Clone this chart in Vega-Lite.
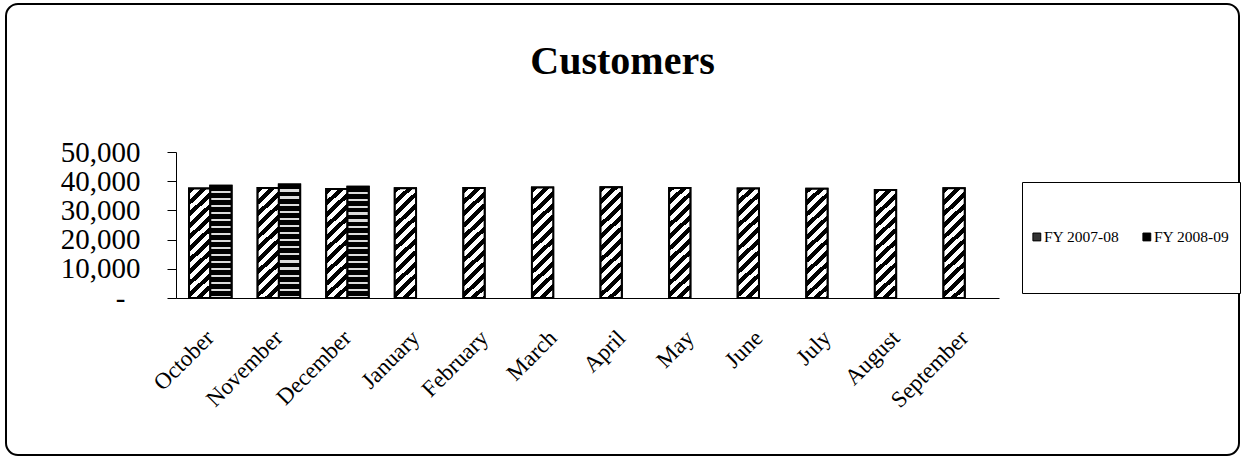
{
  "$schema": "https://vega.github.io/schema/vega-lite/v6.json",
  "width": 1233,
  "height": 451,
  "autosize": {"type": "none"},
  "padding": {"left": 6, "top": 4, "right": 4, "bottom": 4},
  "background": "white",
  "config": {
    "view": {"stroke": "black", "strokeWidth": 2, "cornerRadius": 12},
    "font": "Liberation Serif"
  },
  "title": {
    "text": "Customers",
    "font": "Liberation Serif",
    "fontSize": 40,
    "fontWeight": "bold",
    "color": "black",
    "anchor": "middle",
    "offset": -71,
    "dy": 39,
    "baseline": "alphabetic"
  },
  "data": {
    "values": [
      {"month": "October", "year": "FY 2007-08", "customers": 37500},
      {"month": "November", "year": "FY 2007-08", "customers": 37700},
      {"month": "December", "year": "FY 2007-08", "customers": 37300},
      {"month": "January", "year": "FY 2007-08", "customers": 37600},
      {"month": "February", "year": "FY 2007-08", "customers": 37700},
      {"month": "March", "year": "FY 2007-08", "customers": 37800},
      {"month": "April", "year": "FY 2007-08", "customers": 37900},
      {"month": "May", "year": "FY 2007-08", "customers": 37700},
      {"month": "June", "year": "FY 2007-08", "customers": 37500},
      {"month": "July", "year": "FY 2007-08", "customers": 37400},
      {"month": "August", "year": "FY 2007-08", "customers": 37000},
      {"month": "September", "year": "FY 2007-08", "customers": 37600},
      {"month": "October", "year": "FY 2008-09", "customers": 38400},
      {"month": "November", "year": "FY 2008-09", "customers": 38900},
      {"month": "December", "year": "FY 2008-09", "customers": 38100}
    ]
  },
  "encoding": {
    "x": {
      "field": "month",
      "type": "nominal",
      "sort": ["October", "November", "December", "January", "February", "March", "April", "May", "June", "July", "August", "September"],
      "scale": {"range": [170, 993], "paddingInner": 0.38, "paddingOuter": 0.19},
      "axis": {
        "title": null,
        "orient": "bottom",
        "offset": -157,
        "labelAngle": -45,
        "labelAlign": "right",
        "labelBaseline": "middle",
        "labelPadding": 36,
        "ticks": false,
        "labelFontSize": 23,
        "labelFont": "Liberation Serif",
        "labelColor": "black",
        "domainColor": "black",
        "domainWidth": 1,
        "grid": false
      }
    },
    "xOffset": {
      "field": "year",
      "type": "nominal",
      "scale": {"domain": ["FY 2007-08", "FY 2008-09"], "paddingInner": 0, "paddingOuter": 0}
    },
    "y": {
      "field": "customers",
      "type": "quantitative",
      "scale": {"domain": [0, 50000], "range": [294, 148], "nice": false},
      "axis": {
        "title": null,
        "offset": -170,
        "values": [0, 10000, 20000, 30000, 40000, 50000],
        "labelExpr": "datum.value == 0 ? '-' : format(datum.value, ',')",
        "labelFontSize": 29,
        "labelFont": "Liberation Serif",
        "labelColor": "black",
        "labelPadding": {"condition": {"test": "datum.value === 0", "value": 42}, "value": 27},
        "tickSize": 9,
        "tickColor": "black",
        "domainColor": "black",
        "grid": false
      }
    }
  },
  "layer": [
    {
      "mark": {"type": "bar", "stroke": "black", "strokeWidth": 2},
      "encoding": {
        "fill": {
          "field": "year",
          "type": "nominal",
          "scale": {"domain": ["FY 2007-08", "FY 2008-09"], "range": ["#333333", "#000000"]},
          "legend": {
            "orient": "none",
            "legendX": 1016,
            "legendY": 178,
            "direction": "horizontal",
            "title": null,
            "padding": 10,
            "strokeColor": "black",
            "fillColor": "white",
            "symbolType": "M-1,-0.09H-0.82V0.09H-1Z M0,1",
            "symbolSize": 7600,
            "symbolStrokeColor": "black",
            "symbolStrokeWidth": 1,
            "labelOffset": -77,
            "labelFontSize": 15.5,
            "labelFont": "Liberation Serif",
            "labelColor": "black",
            "columnPadding": 20
          }
        }
      }
    },
    {
      "transform": [{"filter": "datum.year === 'FY 2007-08'"}],
      "mark": {
        "type": "bar",
        "stroke": "black",
        "strokeWidth": 2,
        "fill": {"gradient": "linear", "x1": 0, "y1": 0, "x2": 0.221, "y2": 1.2, "stops": [
          {"offset": 0, "color": "#000"}, {"offset": 0.0425, "color": "#000"}, {"offset": 0.0425, "color": "#fff"}, {"offset": 0.085, "color": "#fff"},
          {"offset": 0.085, "color": "#000"}, {"offset": 0.1275, "color": "#000"}, {"offset": 0.1275, "color": "#fff"}, {"offset": 0.17, "color": "#fff"},
          {"offset": 0.17, "color": "#000"}, {"offset": 0.2125, "color": "#000"}, {"offset": 0.2125, "color": "#fff"}, {"offset": 0.255, "color": "#fff"},
          {"offset": 0.255, "color": "#000"}, {"offset": 0.2975, "color": "#000"}, {"offset": 0.2975, "color": "#fff"}, {"offset": 0.34, "color": "#fff"},
          {"offset": 0.34, "color": "#000"}, {"offset": 0.3825, "color": "#000"}, {"offset": 0.3825, "color": "#fff"}, {"offset": 0.425, "color": "#fff"},
          {"offset": 0.425, "color": "#000"}, {"offset": 0.4675, "color": "#000"}, {"offset": 0.4675, "color": "#fff"}, {"offset": 0.51, "color": "#fff"},
          {"offset": 0.51, "color": "#000"}, {"offset": 0.5525, "color": "#000"}, {"offset": 0.5525, "color": "#fff"}, {"offset": 0.595, "color": "#fff"},
          {"offset": 0.595, "color": "#000"}, {"offset": 0.6375, "color": "#000"}, {"offset": 0.6375, "color": "#fff"}, {"offset": 0.68, "color": "#fff"},
          {"offset": 0.68, "color": "#000"}, {"offset": 0.7225, "color": "#000"}, {"offset": 0.7225, "color": "#fff"}, {"offset": 0.765, "color": "#fff"},
          {"offset": 0.765, "color": "#000"}, {"offset": 0.8075, "color": "#000"}, {"offset": 0.8075, "color": "#fff"}, {"offset": 0.85, "color": "#fff"},
          {"offset": 0.85, "color": "#000"}, {"offset": 0.8925, "color": "#000"}, {"offset": 0.8925, "color": "#fff"}, {"offset": 0.935, "color": "#fff"},
          {"offset": 0.935, "color": "#000"}, {"offset": 0.9775, "color": "#000"}, {"offset": 0.9775, "color": "#fff"}, {"offset": 1, "color": "#fff"}
        ]}
      },
      "encoding": {}
    },
    {
      "transform": [{"filter": "datum.year === 'FY 2008-09'"}],
      "mark": {
        "type": "bar",
        "stroke": "black",
        "strokeWidth": 2,
        "fill": {"gradient": "linear", "x1": 0, "y1": 0, "x2": 0, "y2": 1, "stops": [
          {"offset": 0, "color": "#000"}, {"offset": 0.04375, "color": "#000"}, {"offset": 0.04375, "color": "#ddd"}, {"offset": 0.0625, "color": "#ddd"},
          {"offset": 0.0625, "color": "#000"}, {"offset": 0.10625, "color": "#000"}, {"offset": 0.10625, "color": "#ddd"}, {"offset": 0.125, "color": "#ddd"},
          {"offset": 0.125, "color": "#000"}, {"offset": 0.16875, "color": "#000"}, {"offset": 0.16875, "color": "#ddd"}, {"offset": 0.1875, "color": "#ddd"},
          {"offset": 0.1875, "color": "#000"}, {"offset": 0.23125, "color": "#000"}, {"offset": 0.23125, "color": "#ddd"}, {"offset": 0.25, "color": "#ddd"},
          {"offset": 0.25, "color": "#000"}, {"offset": 0.29375, "color": "#000"}, {"offset": 0.29375, "color": "#ddd"}, {"offset": 0.3125, "color": "#ddd"},
          {"offset": 0.3125, "color": "#000"}, {"offset": 0.35625, "color": "#000"}, {"offset": 0.35625, "color": "#ddd"}, {"offset": 0.375, "color": "#ddd"},
          {"offset": 0.375, "color": "#000"}, {"offset": 0.41875, "color": "#000"}, {"offset": 0.41875, "color": "#ddd"}, {"offset": 0.4375, "color": "#ddd"},
          {"offset": 0.4375, "color": "#000"}, {"offset": 0.48125, "color": "#000"}, {"offset": 0.48125, "color": "#ddd"}, {"offset": 0.5, "color": "#ddd"},
          {"offset": 0.5, "color": "#000"}, {"offset": 0.54375, "color": "#000"}, {"offset": 0.54375, "color": "#ddd"}, {"offset": 0.5625, "color": "#ddd"},
          {"offset": 0.5625, "color": "#000"}, {"offset": 0.60625, "color": "#000"}, {"offset": 0.60625, "color": "#ddd"}, {"offset": 0.625, "color": "#ddd"},
          {"offset": 0.625, "color": "#000"}, {"offset": 0.66875, "color": "#000"}, {"offset": 0.66875, "color": "#ddd"}, {"offset": 0.6875, "color": "#ddd"},
          {"offset": 0.6875, "color": "#000"}, {"offset": 0.73125, "color": "#000"}, {"offset": 0.73125, "color": "#ddd"}, {"offset": 0.75, "color": "#ddd"},
          {"offset": 0.75, "color": "#000"}, {"offset": 0.79375, "color": "#000"}, {"offset": 0.79375, "color": "#ddd"}, {"offset": 0.8125, "color": "#ddd"},
          {"offset": 0.8125, "color": "#000"}, {"offset": 0.85625, "color": "#000"}, {"offset": 0.85625, "color": "#ddd"}, {"offset": 0.875, "color": "#ddd"},
          {"offset": 0.875, "color": "#000"}, {"offset": 0.91875, "color": "#000"}, {"offset": 0.91875, "color": "#ddd"}, {"offset": 0.9375, "color": "#ddd"},
          {"offset": 0.9375, "color": "#000"}, {"offset": 0.98125, "color": "#000"}, {"offset": 0.98125, "color": "#ddd"}, {"offset": 1, "color": "#ddd"}
        ]}
      },
      "encoding": {}
    }
  ]
}
